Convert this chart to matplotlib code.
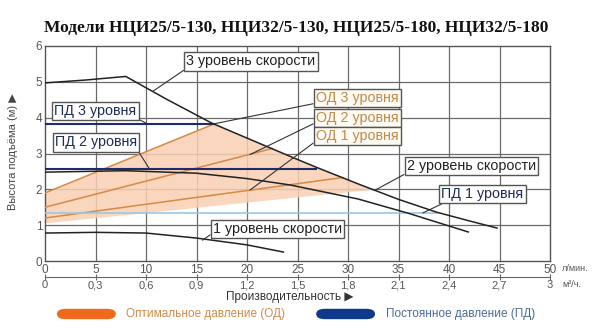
import numpy as np
import matplotlib
matplotlib.use("Agg")
import matplotlib.pyplot as plt
from matplotlib.patches import FancyBboxPatch

plt.rcParams['font.family'] = ['Liberation Sans', 'DejaVu Sans']

# pump curves, flow in l/min, head in m
speed3_x = [0, 4, 8, 12, 16.5, 20, 24.6, 27, 31.2, 35, 38.8, 42, 44.75]
speed3_y = [4.97, 5.05, 5.15, 4.52, 3.85, 3.43, 2.88, 2.6, 2.13, 1.72, 1.36, 1.12, 0.92]
speed2_x = [0, 8, 15, 20, 24.3, 31, 36, 41.9]
speed2_y = [2.48, 2.52, 2.45, 2.3, 2.12, 1.73, 1.33, 0.81]
speed1_x = [0, 5, 10, 15, 20, 23.6]
speed1_y = [0.78, 0.8, 0.78, 0.64, 0.45, 0.25]

# optimal pressure (OD) lines
od3_x, od3_y = [0, 16.7], [1.9, 3.82]
od2_x, od2_y = [0, 22.5], [1.5, 3.14]
od1_x, od1_y = [0, 29.5], [1.2, 2.33]
od_low_x, od_low_y = [0, 32.5], [1.05, 1.99]

# constant pressure (PD) lines: head, end flow
pd_levels = [3.82, 2.58, 1.33]
pd_ends = [16.7, 26.8, 38.8]

x_ticks = [0, 5, 10, 15, 20, 25, 30, 35, 40, 45, 50]
m3h_labels = ['0', '0,3', '0,6', '0,9', '1,2', '1,5', '1,8', '2,1', '2,4', '2,7', '3']
y_ticks = [0, 1, 2, 3, 4, 5, 6]

fig = plt.figure(figsize=(6, 3.36), dpi=100)
ax = fig.add_axes([0.075, 0.2232, 0.8417, 0.6399])
ax.set_xlim(0, 50)
ax.set_ylim(0, 6)

grid_c = '#6b6b6b'
for x in x_ticks[1:-1]:
    ax.axvline(x, color=grid_c, lw=0.9, zorder=1)
for y in y_ticks[1:-1]:
    ax.axhline(y, color=grid_c, lw=0.9, zorder=1)
for s in ax.spines.values():
    s.set_color('#555555')
    s.set_linewidth(1.0)

# shaded OD area
up_x = np.linspace(od3_x[1], od_low_x[1], 30)
up_y = np.interp(up_x, speed3_x, speed3_y)
poly_x = np.concatenate([od3_x, up_x, od_low_x[::-1]])
poly_y = np.concatenate([od3_y, up_y, od_low_y[::-1]])
ax.fill(poly_x, poly_y, color='#f8cfb2', alpha=0.85, lw=0, zorder=2)

od_c = '#d58a45'
for xs, ys in [(od3_x, od3_y), (od2_x, od2_y), (od1_x, od1_y)]:
    ax.plot(xs, ys, color=od_c, lw=1.1, zorder=3)

ax.plot([0, pd_ends[0]], [pd_levels[0]] * 2, color='#1d2c6b', lw=1.5, zorder=4)
ax.plot([0, pd_ends[1]], [pd_levels[1]] * 2, color='#1d2c6b', lw=1.5, zorder=4)
ax.plot([0, pd_ends[2]], [pd_levels[2]] * 2, color='#9cc6e4', lw=1.2, zorder=4)

for xs, ys in [(speed3_x, speed3_y), (speed2_x, speed2_y), (speed1_x, speed1_y)]:
    ax.plot(xs, ys, color='#222222', lw=1.1, zorder=5)

# callout labels: text, box centre, anchor on curve, leader start on box, colour
labels = [
    ('3 уровень скорости', (20.4, 5.57), (10.7, 4.74), (0, 0), '#222222'),
    ('ПД 3 уровня', (5.0, 4.18), (10.2, 3.82), (1, 0), '#1d2c5a'),
    ('ПД 2 уровня', (5.05, 3.31), (10.3, 2.59), (1, 0), '#1d2c5a'),
    ('ОД 3 уровня', (30.9, 4.54), (16.6, 3.82), (0, 0.15), '#c08a4c'),
    ('ОД 2 уровня', (30.9, 4.0), (20.3, 2.97), (0, 0.15), '#c08a4c'),
    ('ОД 1 уровня', (30.9, 3.48), (20.3, 1.98), (0, 0.15), '#c08a4c'),
    ('2 уровень скорости', (42.2, 2.65), (32.7, 1.98), (0, 0), '#222222'),
    ('ПД 1 уровня', (43.3, 1.86), (37.4, 1.34), (0.07, 0), '#1d2c5a'),
    ('1 уровень скорости', (23.0, 0.9), (15.6, 0.58), (0, 0.2), '#222222'),
]
for txt, pos, anchor, rel, col in labels:
    face = '#fffaf2' if txt.startswith('ОД') else 'white'
    ax.annotate(txt, xy=anchor, xytext=pos, ha='center', va='center',
                fontsize=10.3, color=col, zorder=7,
                bbox=dict(boxstyle='square,pad=0.15', fc=face, ec='#555555', lw=1.0),
                arrowprops=dict(arrowstyle='-', color='#333333', lw=0.8,
                                relpos=rel, shrinkA=0, shrinkB=0))

ax.set_xticks(x_ticks)
ax.set_yticks(y_ticks)
ax.tick_params(length=0, labelsize=8.5, labelcolor='#555555', pad=2)

sec = ax.secondary_xaxis(-0.074, functions=(lambda x: x * 0.06, lambda x: x / 0.06))
sec.set_xticks([t * 0.06 for t in x_ticks])
sec.set_xticklabels(m3h_labels)
sec.tick_params(direction='inout', length=5, width=0.8, color='#666666',
                labelsize=8, labelcolor='#555555', pad=0)
sec.spines['bottom'].set_color('#666666')
sec.spines['bottom'].set_linewidth(0.8)

ax.text(51.2, -0.037, 'л/мин.', transform=ax.get_xaxis_transform(),
        fontsize=6.5, color='#555555', va='center', ha='left', clip_on=False)
ax.text(51.2, -0.107, 'м³/ч.', transform=ax.get_xaxis_transform(),
        fontsize=6.5, color='#555555', va='center', ha='left', clip_on=False)

ax.text(0.485, -0.167, 'Производительность ▶', transform=ax.transAxes,
        fontsize=8.5, color='#333333', ha='center', va='center',
        family=['Liberation Sans', 'DejaVu Sans'])
ax.text(-0.063, 0.507, 'Высота подъёма (м) ▶', transform=ax.transAxes,
        fontsize=8, color='#444444', ha='center', va='center', rotation=90,
        family=['Liberation Sans', 'DejaVu Sans'])

fig.text(0.493, 0.917, 'Модели НЦИ25/5-130, НЦИ32/5-130, НЦИ25/5-180, НЦИ32/5-180',
         fontsize=12.5, fontweight='bold', family='Liberation Serif',
         ha='center', va='center', color='#111111')

# legend bars
fig.patches.append(FancyBboxPatch((0.095, 0.050), 0.098, 0.031,
                                  boxstyle='round,pad=0,rounding_size=0.015',
                                  transform=fig.transFigure, fc='#f06a1e', ec='none'))
fig.patches.append(FancyBboxPatch((0.527, 0.050), 0.098, 0.031,
                                  boxstyle='round,pad=0,rounding_size=0.015',
                                  transform=fig.transFigure, fc='#0f3a8c', ec='none'))
fig.text(0.21, 0.065, 'Оптимальное давление (ОД)', fontsize=8.5, color='#d08a4a',
         ha='left', va='center')
fig.text(0.643, 0.065, 'Постоянное давление (ПД)', fontsize=8.5, color='#4a6a96',
         ha='left', va='center')

fig.savefig('out.png', dpi=100, facecolor='white')
